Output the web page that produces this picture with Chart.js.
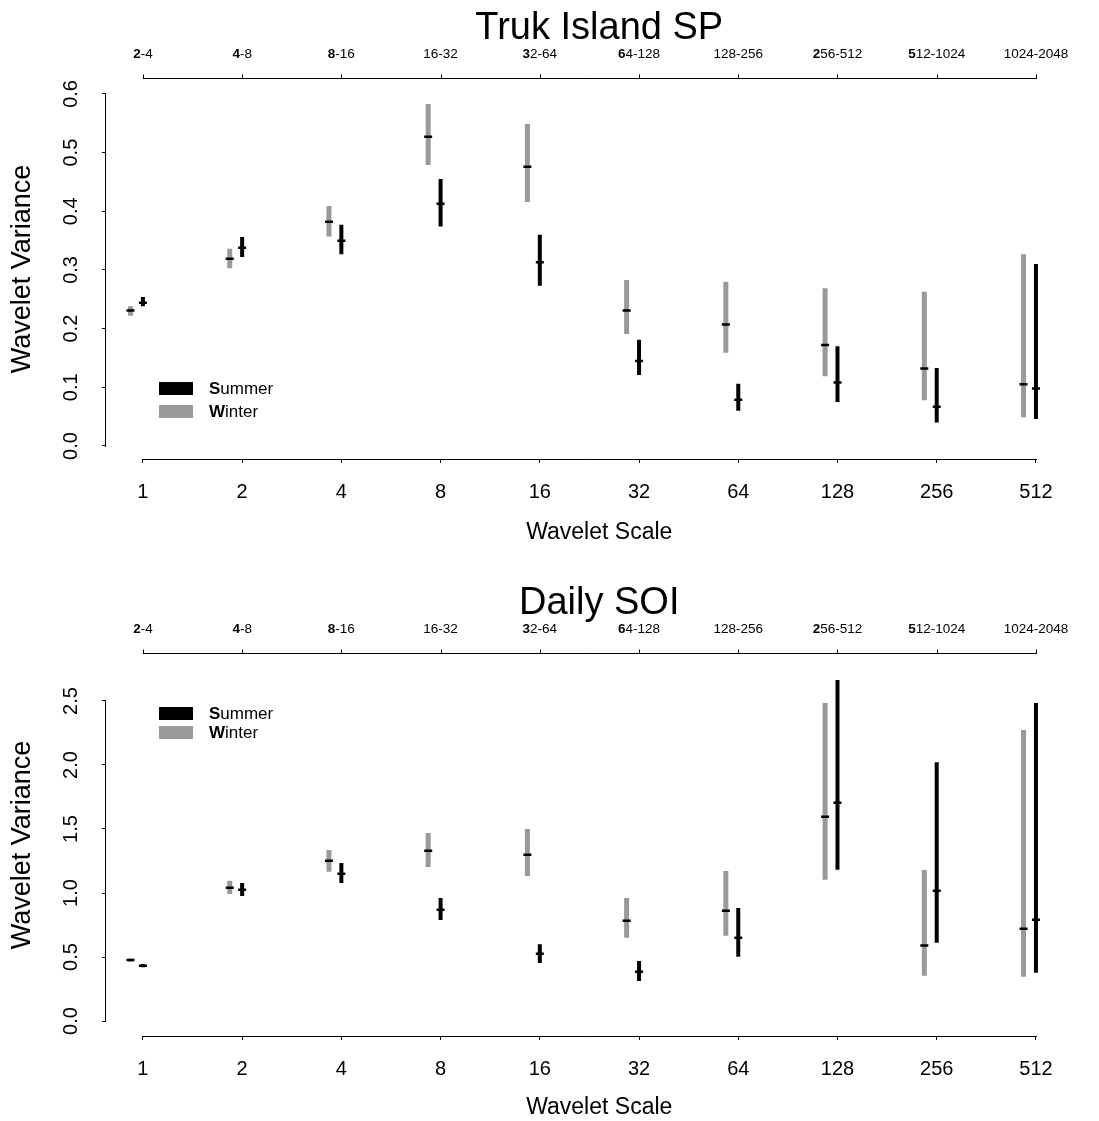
<!DOCTYPE html>
<html>
<head>
<meta charset="utf-8">
<script src="https://cdn.jsdelivr.net/npm/chart.js@4.4.1/dist/chart.umd.min.js"></script>
<style>
  html, body { margin: 0; padding: 0; background: #fff; }
  .panel { position: relative; width: 1099px; }
</style>
</head>
<body>
<div class="panel"><canvas id="truk" width="1099" height="560"></canvas></div>
<div class="panel"><canvas id="soi" width="1099" height="561"></canvas></div>
<script>
// wavelet scales (bottom axis) and the period bands they cover (top axis)
const waveScales = [1, 2, 4, 8, 16, 32, 64, 128, 256, 512];
const bandLabels = ['2-4', '4-8', '8-16', '16-32', '32-64', '64-128', '128-256', '256-512', '512-1024', '1024-2048'];
const bandBold = [true, true, true, false, true, true, false, true, true, false];

// Truk Island SP
const trukWinterEst = [0.231, 0.319, 0.382, 0.527, 0.476, 0.231, 0.207, 0.172, 0.132, 0.105];
const trukWinterLo  = [0.222, 0.303, 0.357, 0.479, 0.416, 0.191, 0.159, 0.119, 0.078, 0.049];
const trukWinterHi  = [0.238, 0.336, 0.409, 0.583, 0.549, 0.283, 0.280, 0.269, 0.263, 0.327];
const trukSummerEst = [0.244, 0.338, 0.350, 0.413, 0.313, 0.145, 0.079, 0.108, 0.067, 0.098];
const trukSummerLo  = [0.238, 0.322, 0.327, 0.374, 0.273, 0.121, 0.060, 0.075, 0.040, 0.046];
const trukSummerHi  = [0.254, 0.356, 0.377, 0.455, 0.360, 0.181, 0.106, 0.170, 0.133, 0.310];
const trukTicks = [0, 0.1, 0.2, 0.3, 0.4, 0.5, 0.6];

// Daily SOI
const soiWinterEst = [0.477, 1.041, 1.252, 1.331, 1.299, 0.784, 0.862, 1.596, 0.589, 0.721];
const soiWinterLo  = [0.463, 0.992, 1.167, 1.203, 1.133, 0.651, 0.667, 1.104, 0.354, 0.346];
const soiWinterHi  = [0.488, 1.096, 1.336, 1.469, 1.500, 0.961, 1.172, 2.484, 1.180, 2.273];
const soiSummerEst = [0.432, 1.026, 1.151, 0.870, 0.526, 0.385, 0.651, 1.706, 1.018, 0.791];
const soiSummerLo  = [0.420, 0.977, 1.078, 0.789, 0.453, 0.313, 0.503, 1.182, 0.612, 0.377];
const soiSummerHi  = [0.445, 1.078, 1.234, 0.961, 0.600, 0.469, 0.883, 2.664, 2.021, 2.484];
const soiTicks = [0, 0.5, 1.0, 1.5, 2.0, 2.5];

const FONT = '"Liberation Sans", Arial, Helvetica, sans-serif';
const GREY = '#999999';
const WINTER_SHIFT = -0.125;   // winter bars sit a little left of each scale

Chart.defaults.font.family = FONT;
Chart.defaults.color = '#000';

// text whose first character is bold (as in the original figure)
function mixedText(ctx, str, x, y, bold, size, align) {
  const head = str[0], tail = str.slice(1);
  ctx.font = (bold ? 'bold ' : '') + size + 'px ' + FONT;
  const w1 = ctx.measureText(head).width;
  ctx.font = size + 'px ' + FONT;
  const w2 = ctx.measureText(tail).width;
  let start = align === 'center' ? x - (w1 + w2) / 2 : x;
  ctx.textAlign = 'left';
  ctx.font = (bold ? 'bold ' : '') + size + 'px ' + FONT;
  ctx.fillText(head, start, y);
  ctx.font = size + 'px ' + FONT;
  ctx.fillText(tail, start + w1, y);
}

// R-style frame: detached axes, top band axis, title and legend
const rFrame = {
  id: 'rFrame',
  afterDraw(chart, args, opts) {
    const { ctx, chartArea: a } = chart;
    const xs = chart.scales.x, ys = chart.scales.y;
    const xFirst = xs.getPixelForValue(Math.log2(waveScales[0]));
    const xLast = xs.getPixelForValue(Math.log2(waveScales[waveScales.length - 1]));
    ctx.save();
    ctx.strokeStyle = '#000';
    ctx.lineWidth = 1;
    ctx.beginPath();
    const yb = Math.round(a.bottom) + 0.5;
    ctx.moveTo(xFirst, yb); ctx.lineTo(xLast + 1, yb);
    const yt = Math.round(a.top) - 0.5;
    ctx.moveTo(xFirst, yt); ctx.lineTo(xLast + 1, yt);
    waveScales.forEach(s => {
      const px = Math.round(xs.getPixelForValue(Math.log2(s))) + 0.5;
      ctx.moveTo(px, yt); ctx.lineTo(px, yt - 4);
    });
    const xl = Math.round(a.left) - 0.5;
    ctx.moveTo(xl, ys.getPixelForValue(opts.yTicks[0]) + 1);
    ctx.lineTo(xl, ys.getPixelForValue(opts.yTicks[opts.yTicks.length - 1]));
    ctx.stroke();

    // top axis labels
    ctx.fillStyle = '#000';
    ctx.textBaseline = 'alphabetic';
    waveScales.forEach((s, i) => {
      mixedText(ctx, bandLabels[i], xs.getPixelForValue(Math.log2(s)), a.top - 21, bandBold[i], 13.5, 'center');
    });

    // title
    ctx.font = '38px ' + FONT;
    ctx.textAlign = 'center';
    ctx.fillText(opts.title, (a.left + a.right) / 2, a.top - 40);

    // legend
    const lx = a.left + opts.legendLeft, ly = a.top + opts.legendTop;
    const rows = [['Summer', '#000'], ['Winter', GREY]];
    ctx.textBaseline = 'middle';
    rows.forEach(([name, col], k) => {
      const top = ly + k * opts.legendGap;
      ctx.fillStyle = col;
      ctx.fillRect(lx, top, 34, 13);
      ctx.fillStyle = '#000';
      mixedText(ctx, name, lx + 50, top + 7, true, 17, 'left');
    });
    ctx.restore();
  }
};

function buildChart(id, p) {
  const pos = (i, shift) => Math.log2(waveScales[i]) + shift;
  const ctx = document.getElementById(id).getContext('2d');
  return new Chart(ctx, {
    type: 'bar',
    data: {
      datasets: [
        {
          type: 'scatter', order: 1,
          data: p.winterEst.map((v, i) => ({ x: pos(i, WINTER_SHIFT), y: v })),
          pointStyle: 'line', pointRadius: 4, borderWidth: 2.5, borderColor: '#000'
        },
        {
          type: 'scatter', order: 1,
          data: p.summerEst.map((v, i) => ({ x: pos(i, 0), y: v })),
          pointStyle: 'line', pointRadius: 4, borderWidth: 2.5, borderColor: '#000'
        },
        {
          label: 'Winter', order: 2, grouped: false,
          data: p.winterLo.map((v, i) => ({ x: pos(i, WINTER_SHIFT), y: [v, p.winterHi[i]] })),
          backgroundColor: GREY, maxBarThickness: 5, borderWidth: 0
        },
        {
          label: 'Summer', order: 2, grouped: false,
          data: p.summerLo.map((v, i) => ({ x: pos(i, 0), y: [v, p.summerHi[i]] })),
          backgroundColor: '#000', maxBarThickness: 4, borderWidth: 0
        }
      ]
    },
    options: {
      responsive: false,
      animation: false,
      events: [],
      layout: { padding: { left: 0, right: 3, top: p.padTop, bottom: 0 } },
      plugins: {
        legend: { display: false },
        tooltip: { enabled: false },
        rFrame: { title: p.title, yTicks: p.yTicks, legendLeft: 53, legendTop: p.legendTop, legendGap: p.legendGap }
      },
      scales: {
        x: {
          type: 'linear', offset: false,
          min: -0.372, max: 9.57,
          afterBuildTicks: s => { s.ticks = waveScales.map(v => ({ value: Math.log2(v) })); },
          afterFit: s => { s.height = p.xBox; },
          grid: { drawOnChartArea: false, drawTicks: true, tickLength: 4, color: '#000', offset: false },
          border: { display: false },
          ticks: { padding: 17, font: { size: 20 }, maxRotation: 0, autoSkip: false,
                   callback: (v, i) => String(waveScales[i]) },
          title: { display: true, text: 'Wavelet Scale', font: { size: 23 }, padding: { top: 0, bottom: p.xTitlePad } }
        },
        y: {
          min: p.yMin, max: p.yMax,
          afterBuildTicks: s => { s.ticks = p.yTicks.map(v => ({ value: v })); },
          afterFit: s => { s.width = 106; },
          grid: { drawOnChartArea: false, drawTicks: true, tickLength: 4, color: '#000' },
          border: { display: false },
          ticks: { minRotation: 90, maxRotation: 90, crossAlign: 'center', padding: 17,
                   font: { size: 20 }, callback: v => v.toFixed(1) },
          title: { display: true, text: 'Wavelet Variance', font: { size: 27 }, padding: { top: 6, bottom: 0 } }
        }
      }
    },
    plugins: [rFrame]
  });
}

buildChart('truk', {
  title: 'Truk Island SP',
  winterEst: trukWinterEst, winterLo: trukWinterLo, winterHi: trukWinterHi,
  summerEst: trukSummerEst, summerLo: trukSummerLo, summerHi: trukSummerHi,
  yTicks: trukTicks, yMin: -0.0222, yMax: 0.6255,
  padTop: 79, xBox: 101, xTitlePad: 14, legendTop: 303, legendGap: 23
});

buildChart('soi', {
  title: 'Daily SOI',
  winterEst: soiWinterEst, winterLo: soiWinterLo, winterHi: soiWinterHi,
  summerEst: soiSummerEst, summerLo: soiSummerLo, summerHi: soiSummerHi,
  yTicks: soiTicks, yMin: -0.117, yMax: 2.867,
  padTop: 94, xBox: 85, xTitlePad: 0, legendTop: 53, legendGap: 19
});
</script>
</body>
</html>
